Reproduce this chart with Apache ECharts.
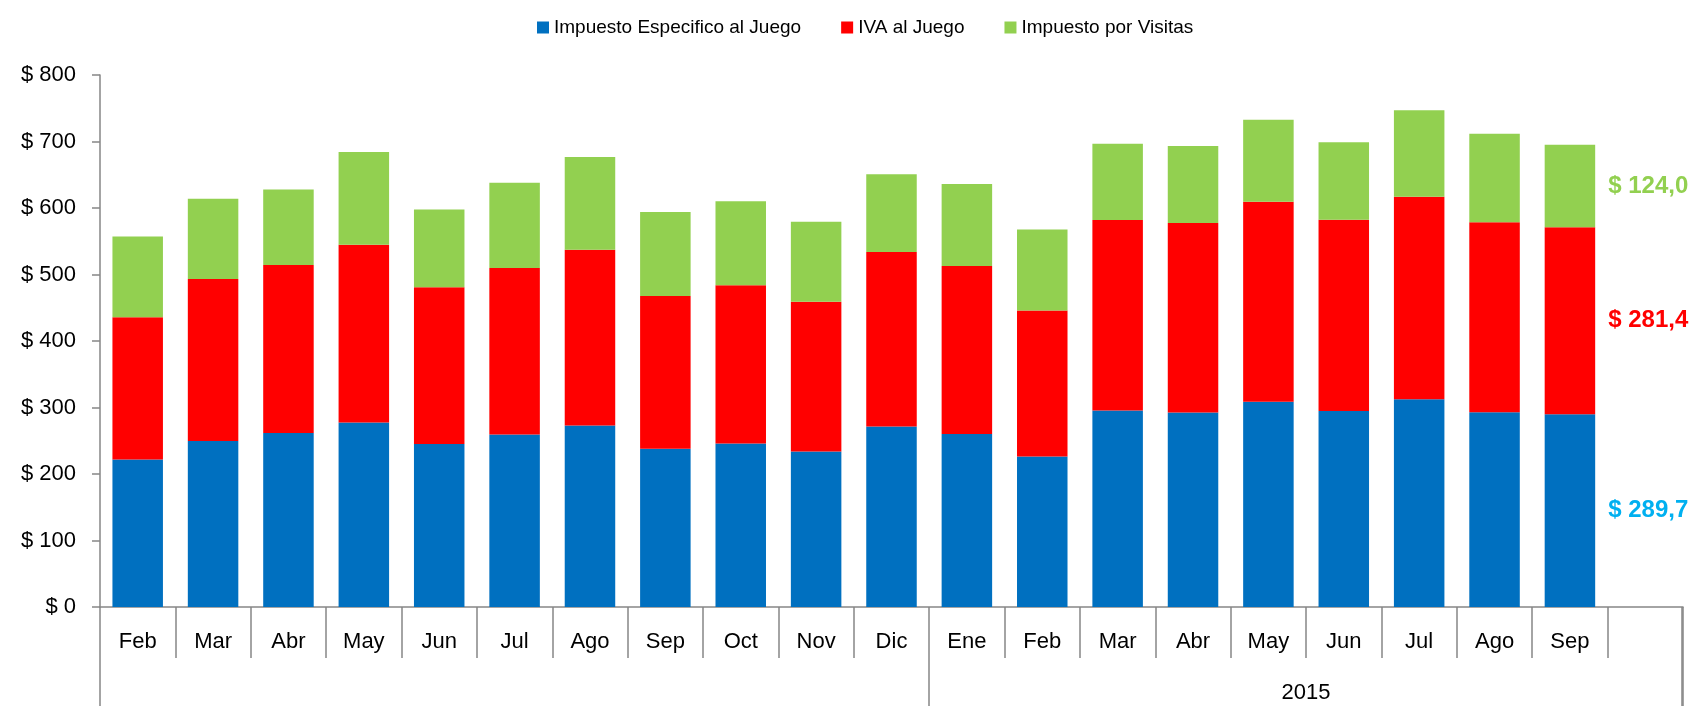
<!DOCTYPE html>
<html>
<head>
<meta charset="utf-8">
<script src="https://cdn.jsdelivr.net/npm/echarts@6/dist/echarts.min.js"></script>
<style>
	html, body { margin: 0; padding: 0; background: #ffffff; }
	#chart { width: 1689px; height: 706px; }
</style>
</head>
<body>
<div id="chart"></div>
<script>
// meses (el ultimo espacio queda vacio como en la planilla)
var months = [ 'Feb', 'Mar', 'Abr', 'May', 'Jun', 'Jul', 'Ago', 'Sep', 'Oct',
	'Nov', 'Dic', 'Ene', 'Feb', 'Mar', 'Abr', 'May', 'Jun', 'Jul', 'Ago',
	'Sep', '' ];
var yearLabel = '2015';
var yearStart = 11;

var especifico = [ 221.8, 249.8, 261.8, 277.4, 245.3, 259.4, 272.9, 237.8,
	245.8, 233.8, 271.4, 260.3, 226.3, 295.5, 292.5, 308.5, 294.9, 312.5,
	293.0, 289.7 ];
var iva = [ 214.1, 243.3, 252.3, 267.3, 235.7, 250.2, 264.3, 229.7, 238.2,
	225.1, 262.3, 252.3, 219.7, 286.4, 284.9, 300.9, 287.4, 304.4, 285.4,
	281.4 ];
var visitas = [ 121.4, 120.8, 113.9, 139.5, 116.9, 128.4, 139.5, 126.4, 126.0,
	120.4, 116.9, 123.4, 121.8, 114.8, 115.8, 123.4, 116.5, 130.0, 133.3,
	124.0 ];

var seriesNames = [ 'Impuesto Especifico al Juego', 'IVA al Juego',
	'Impuesto por Visitas' ];
var colors = [ '#0070C0', '#FF0000', '#92D050' ];
var labelColors = [ '#00B0F0', '#FF0000', '#92D050' ];
var axisGrey = '#868686';
var font = 'Liberation Sans';

var lastIndex = especifico.length - 1;

function lastLabel(color) {
	return {
		show : true,
		position : 'right',
		distance : 13,
		color : color,
		fontFamily : font,
		fontWeight : 'bold',
		fontSize : 24,
		formatter : function(p) {
			if (p.dataIndex !== lastIndex) {
				return '';
			}
			return '$ ' + p.value.toFixed(1).replace('.', ',');
		}
	};
}

function makeSeries(i, data) {
	return {
		name : seriesNames[i],
		type : 'bar',
		stack : 'total',
		barWidth : '67%',
		data : data,
		itemStyle : {
			color : colors[i]
		},
		label : lastLabel(labelColors[i]),
		emphasis : {
			disabled : true
		}
	};
}

var tickLine = {
	color : axisGrey,
	width : 1.5
};

var option = {
	animation : false,
	grid : {
		left : 100,
		right : 6,
		top : 75,
		bottom : 99,
		containLabel : false
	},
	legend : {
		data : seriesNames,
		left : 532,
		top : 13,
		itemWidth : 12,
		itemHeight : 12,
		itemGap : 40,
		icon : 'rect',
		textStyle : {
			fontFamily : font,
			fontSize : 19,
			color : '#000000'
		}
	},
	xAxis : [ {
		type : 'category',
		data : months,
		position : 'bottom',
		axisLine : {
			lineStyle : tickLine
		},
		axisTick : {
			show : true,
			interval : 0,
			length : 51,
			lineStyle : tickLine
		},
		axisLabel : {
			interval : 0,
			margin : 24,
			fontFamily : font,
			fontSize : 22,
			color : '#000000'
		}
	}, {
		// fila del año
		type : 'category',
		data : months.map(function(m, i) {
			return i === yearStart + 4 ? yearLabel : '';
		}),
		position : 'bottom',
		offset : 51,
		axisLine : {
			show : false
		},
		axisTick : {
			show : true,
			length : 60,
			interval : function(index) {
				return index === 0 || index === yearStart;
			},
			lineStyle : tickLine
		},
		axisLabel : {
			interval : 0,
			margin : 24,
			formatter : function(v) {
				return v ? '{y|' + v + '}' : '';
			},
			rich : {
				y : {
					fontFamily : font,
					fontSize : 22,
					color : '#000000',
					padding : [ 0, 0, 0, 75 ]
				}
			}
		}
	} ],
	yAxis : {
		type : 'value',
		min : 0,
		max : 800,
		interval : 100,
		axisLine : {
			show : true,
			lineStyle : tickLine
		},
		axisTick : {
			show : true,
			length : 8,
			lineStyle : tickLine
		},
		splitLine : {
			show : false
		},
		axisLabel : {
			margin : 24,
			fontFamily : font,
			fontSize : 22,
			color : '#000000',
			formatter : '$ {value}'
		}
	},
	series : [ makeSeries(0, especifico), makeSeries(1, iva),
		makeSeries(2, visitas) ]
};

var graph = echarts.init(document.getElementById('chart'));
graph.setOption(option);

// borde derecho de la tabla de categorias, sacado del rectangulo del grid
var rect = graph.getModel().getComponent('grid', 0).coordinateSystem.getRect();
var edgeX = Math.round(rect.x + rect.width) - 1;
graph.setOption({
	graphic : [ {
		type : 'line',
		silent : true,
		shape : {
			x1 : edgeX,
			y1 : rect.y + rect.height,
			x2 : edgeX,
			y2 : graph.getHeight()
		},
		style : {
			stroke : axisGrey,
			lineWidth : 1.5
		}
	} ]
});
</script>
</body>
</html>
